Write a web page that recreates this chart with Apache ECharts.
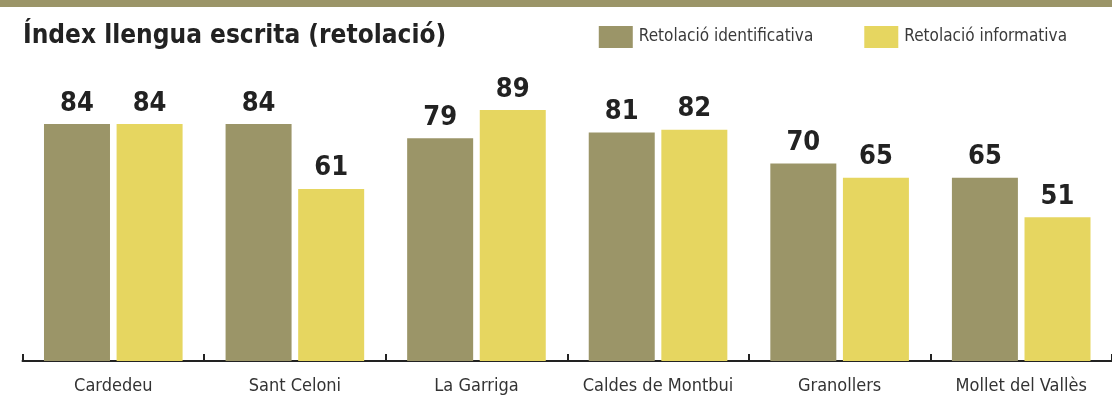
<!DOCTYPE html>
<html>
<head>
<meta charset="utf-8">
<script src="https://cdn.jsdelivr.net/npm/echarts@6/dist/echarts.min.js"></script>
<style>
  html, body { margin: 0; padding: 0; background: #fff; }
  #chart { width: 1112px; height: 401px; }
</style>
</head>
<body>
<div id="chart"></div>
<script>
const categories = ['Cardedeu', 'Sant Celoni', 'La Garriga', 'Caldes de Montbui', 'Granollers', 'Mollet del Vallès'];
const identificativa = [84, 84, 79, 81, 70, 65];
const informativa = [84, 61, 89, 82, 65, 51];

const FONT = '"Liberation Sans Narrow", "DejaVu Sans Condensed", sans-serif';
const OLIVE = '#9b9568';
const YELLOW = '#e6d660';

const chart = echarts.init(document.getElementById('chart'), null, { renderer: 'canvas' });

// etiqueta de valor a sobre de cada barra
const valueLabel = {
  show: true,
  position: 'top',
  distance: 7,
  fontFamily: FONT,
  fontWeight: 'bold',
  fontSize: 27,
  color: '#222',
};

chart.setOption({
  animation: false,
  title: {
    text: 'Índex llengua escrita (retolació)',
    left: 23,
    top: 23,
    padding: 0,
    textStyle: { fontFamily: FONT, fontWeight: 'bold', fontSize: 26, color: '#222' },
  },
  graphic: [
    { type: 'rect', left: 0, top: 0, shape: { width: 1112, height: 7 }, style: { fill: OLIVE } },
  ],
  legend: {
    right: 45,
    top: 26,
    padding: 0,
    itemWidth: 34,
    itemHeight: 22,
    itemGap: 51,
    icon: 'rect',
    textStyle: { fontFamily: FONT, fontSize: 17, color: '#3a3a3a', padding: [0, 0, 0, 1] },
    data: ['Retolació identificativa', 'Retolació informativa'],
  },
  grid: { left: 22.5, top: 79, width: 1093, bottom: 40, containLabel: false },
  xAxis: {
    type: 'category',
    data: categories,
    axisLine: { lineStyle: { color: '#222', width: 2 } },
    axisTick: { show: true, interval: 0, inside: true, length: 7, lineStyle: { color: '#222', width: 2 } },
    axisLabel: { interval: 0, margin: 16, fontFamily: FONT, fontSize: 18, color: '#333' },
  },
  yAxis: {
    type: 'value',
    min: 0,
    max: 100,
    show: false,
    splitLine: { show: false },
  },
  series: [
    {
      name: 'Retolació identificativa',
      type: 'bar',
      data: identificativa,
      barWidth: 66,
      barGap: '10%',
      itemStyle: { color: OLIVE },
      label: valueLabel,
    },
    {
      name: 'Retolació informativa',
      type: 'bar',
      data: informativa,
      barWidth: 66,
      itemStyle: { color: YELLOW },
      label: valueLabel,
    },
  ],
});
</script>
</body>
</html>
